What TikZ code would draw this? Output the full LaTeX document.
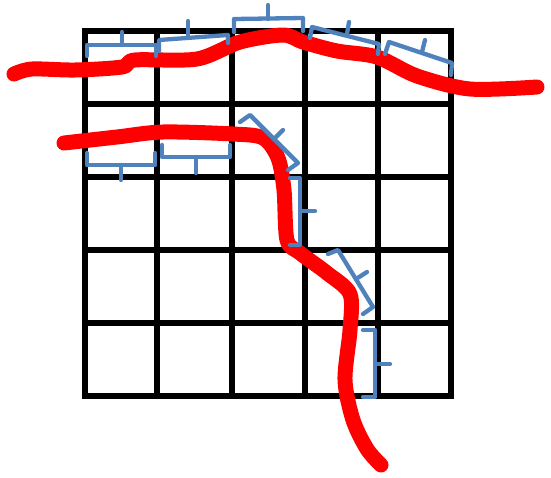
\documentclass[tikz,border=0pt]{standalone}
\usepackage{tikz}
\usetikzlibrary{calc}
\definecolor{braceblue}{RGB}{79,129,189}
\tikzset{gridline/.style={line width=6.5pt, black, line cap=rect}}
\tikzset{vessel/.style={line width=15pt, red, line cap=round, line join=round}}
\tikzset{brace/.style={line width=4.3pt, braceblue, line join=round, line cap=round}}

\begin{document}
\begin{tikzpicture}[x=1pt, y=-1pt]
        \useasboundingbox (0,0) rectangle (551,477);
        % the 5 by 5 grid
        \foreach \gx in {85,157,232,305,378,451}
          \draw[gridline] (\gx,31) -- (\gx,396);
        \foreach \gy in {31,104,177,250,323,396}
          \draw[gridline] (85,\gy) -- (451,\gy);
        % upper vessel
        \draw[vessel] plot[smooth, tension=0.5] coordinates {(14,74) (32,69) (75,70) (122,67) (135,60) (197,59) (240,42) (283,35) (303,42) (337,51) (377,57) (417,76) (470,89) (537,87)};
        % lower vessel
        \draw[vessel] plot[smooth, tension=0.5] coordinates {(64,143) (117,137) (163,132) (233,134) (263,138) (278,158) (284,190) (287,240) (300,253) (327,273) (350,294) (350,330) (345,380) (353,420) (367,449) (381,465)};
        % braces along the upper vessel
        \draw[brace] (87,56) -- (87,45) -- (156,45) -- (156,56);
        \draw[brace] (122,45) -- (122,32);
        \draw[brace] (159,51) -- (159,40) -- (228,35) -- (228,43);
        \draw[brace] (188,37) -- (188,21);
        \draw[brace] (234,32) -- (234,19) -- (303,18) -- (303,31);
        \draw[brace] (268,19) -- (268,5);
        \draw[brace] (310,38) -- (312,27) -- (379,44) -- (378,54);
        \draw[brace] (347,34) -- (349,22);
        \draw[brace] (385,54) -- (389,42) -- (452,63) -- (451,75);
        \draw[brace] (422,52) -- (425,40);
        % braces along the lower vessel
        \draw[brace] (87,153) -- (87,165) -- (155,165) -- (155,153);
        \draw[brace] (121,165) -- (121,180);
        \draw[brace] (162,145) -- (162,157) -- (230,157) -- (230,145);
        \draw[brace] (196,157) -- (196,173);
        \draw[brace] (240,122) -- (250,115) -- (298,163) -- (288,170);
        \draw[brace] (274,139) -- (283,130);
        \draw[brace] (290,178) -- (300,178) -- (300,245) -- (290,245);
        \draw[brace] (300,211) -- (315,211);
        \draw[brace] (328,254) -- (338,250) -- (373,307) -- (363,314);
        \draw[brace] (356,279) -- (367,272);
        \draw[brace] (363,330) -- (375,330) -- (375,397) -- (363,397);
        \draw[brace] (375,364) -- (390,364);
      \end{tikzpicture}
\end{document}
